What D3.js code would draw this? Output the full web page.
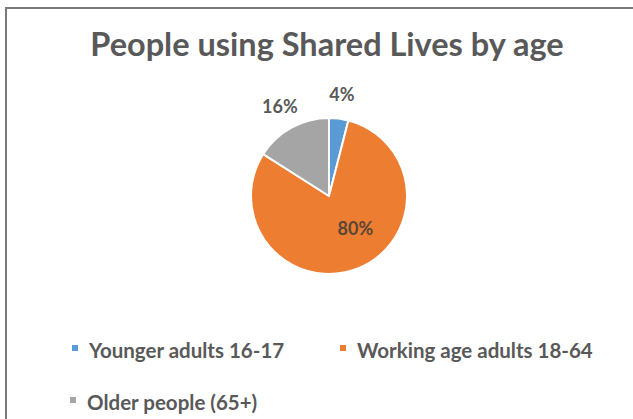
<!DOCTYPE html>
<html>
<head>
<meta charset="utf-8">
<script src="https://cdn.jsdelivr.net/npm/d3@7"></script>
<style>
  html, body { margin: 0; padding: 0; background: #fff; }
  svg { display: block; }
</style>
</head>
<body>
<svg id="chart" width="633" height="419"></svg>
<script>
// Age groups and their share of people using Shared Lives
const categories = ["Younger adults 16-17", "Working age adults 18-64", "Older people (65+)"];
const shares = [4, 80, 16];
const percentLabels = ["4%", "80%", "16%"];
const colors = ["#5b9bd5", "#ed7d31", "#a5a5a5"];

const svg = d3.select("#chart");
const W = 633, H = 419;
const font = "Lato, 'Open Sans', sans-serif";

svg.append("rect").attr("width", W).attr("height", H).attr("fill", "#fff");

// chart frame (top and left edges)
svg.append("path")
  .attr("d", `M6,${H} V8 H${W}`)
  .attr("fill", "none")
  .attr("stroke", "#7a7a7a")
  .attr("stroke-width", 2);

// title
svg.append("text")
  .attr("x", 327).attr("y", 56)
  .attr("text-anchor", "middle")
  .attr("font-family", font)
  .attr("font-size", 32.5)
  .attr("font-weight", 700)
  .attr("fill", "#595959")
  .text("People using Shared Lives by age");

// pie
const cx = 329, cy = 196, r = 78;
const data = categories.map((c, i) => ({ name: c, value: shares[i], label: percentLabels[i], color: colors[i] }));
const pie = d3.pie().value(d => d.value).sort(null);
const arc = d3.arc().innerRadius(0).outerRadius(r);
const arcs = pie(data);

const g = svg.append("g").attr("transform", `translate(${cx},${cy})`);
g.selectAll("path.slice")
  .data(arcs)
  .join("path")
  .attr("class", "slice")
  .attr("d", arc)
  .attr("fill", d => d.data.color)
  .attr("stroke", "#fff")
  .attr("stroke-width", 2)
  .attr("stroke-linejoin", "round");

// percentage labels: small slices outside the pie, the large slice inside
function labelPos(d) {
  const mid = (d.startAngle + d.endAngle) / 2;
  const inside = d.data.value > 50;
  const a = inside ? mid - 0.3 : mid;
  const rr = inside ? r * 0.54 : r + 24;
  return [Math.sin(a) * rr, -Math.cos(a) * rr];
}
g.selectAll("text.pct")
  .data(arcs)
  .join("text")
  .attr("class", "pct")
  .attr("transform", d => `translate(${labelPos(d)})`)
  .attr("text-anchor", "middle")
  .attr("dy", "0.36em")
  .attr("font-family", font)
  .attr("font-size", 18)
  .attr("font-weight", 700)
  .attr("fill", d => d.data.value > 50 ? "#5a4636" : "#595959")
  .text(d => d.data.label);

// legend
const legendPos = [[72, 358], [340, 358], [70, 410]];
const lg = svg.append("g");
const items = lg.selectAll("g.item")
  .data(data)
  .join("g")
  .attr("class", "item")
  .attr("transform", (d, i) => `translate(${legendPos[i][0]},${legendPos[i][1]})`);
items.append("rect")
  .attr("x", 0).attr("y", -13)
  .attr("width", 6).attr("height", 6)
  .attr("fill", d => d.color);
items.append("text")
  .attr("x", 17).attr("y", 0)
  .attr("font-family", font)
  .attr("font-size", 20.5)
  .attr("font-weight", 700)
  .attr("fill", "#595959")
  .text(d => d.name);
</script>
</body>
</html>
